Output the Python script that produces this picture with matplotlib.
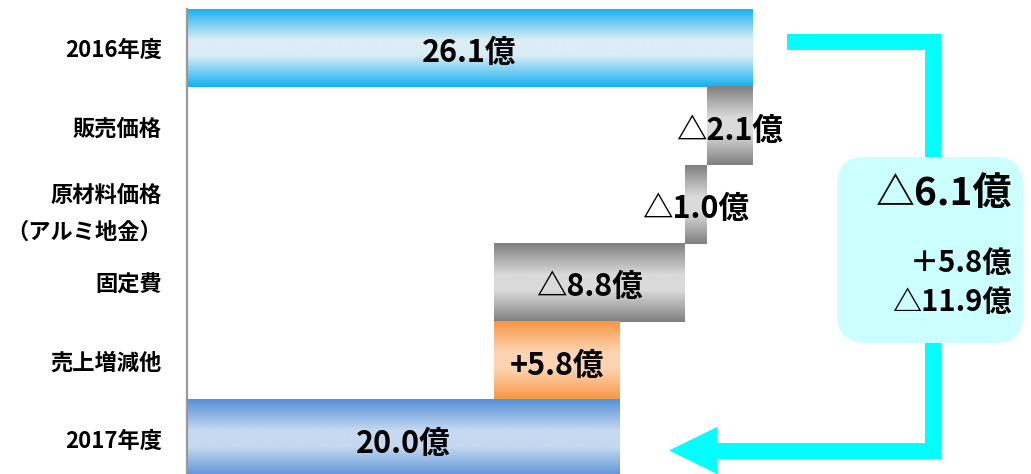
import matplotlib
matplotlib.use("Agg")
import matplotlib.pyplot as plt
import numpy as np
from matplotlib.colors import to_rgb
from matplotlib.patches import FancyBboxPatch, Polygon
from matplotlib.lines import Line2D
from matplotlib.transforms import IdentityTransform

plt.rcParams['font.family'] = ['Noto Sans CJK JP', 'DejaVu Sans']

# ---- data ----
categories = ['2016年度', '販売価格', '原材料価格\n（アルミ地金）', '固定費', '売上増減他', '2017年度']
values = [26.1, -2.1, -1.0, -8.8, 5.8, 20.0]
bar_labels = ['26.1億', '△2.1億', '△1.0億', '△8.8億', '+5.8億', '20.0億']
kinds = ['total', 'delta', 'delta', 'delta', 'delta', 'total']
summary_main = '△6.1億'
summary_sub = ['＋5.8億', '△11.9億']

# gradient colours (edge, centre)
grad_colors = {
    0: ('#12b0f0', '#dbedf6'),
    5: ('#5590d6', '#c6d9f1'),
    'neg': ('#7f7f7f', '#dadada'),
    'pos': ('#f79646', '#fdd4b2'),
}

W, H = 1031, 474
fig = plt.figure(figsize=(W / 100, H / 100), dpi=100)
ax_left_px = 187
ax_top_px = 9
row_px = 78.2
n = len(categories)
ax_bottom_px = ax_top_px + n * row_px
x_scale = 21.65  # px per unit
xmax = (W - ax_left_px) / x_scale
ax = fig.add_axes([ax_left_px / W, (H - ax_bottom_px) / H,
                   (W - ax_left_px) / W, (ax_bottom_px - ax_top_px) / H])


def gradient(edge, centre, n_=200):
    e = np.array(to_rgb(edge))
    c = np.array(to_rgb(centre))
    t = np.linspace(0, 1, n_)
    f = 1 - np.abs(2 * t - 1)
    f = np.clip(f * 1.25, 0, 1)
    arr = e[None, :] * (1 - f[:, None]) + c[None, :] * f[:, None]
    return arr[:, None, :]


running = 0.0
for i, (v, kind) in enumerate(zip(values, kinds)):
    if kind == 'total':
        left, right = 0.0, v
        running = v
        cols = grad_colors[i]
    else:
        new = running + v
        left, right = min(running, new), max(running, new)
        running = new
        cols = grad_colors['neg'] if v < 0 else grad_colors['pos']
    img = gradient(*cols)
    ax.imshow(img, extent=(left, right, i + 0.5, i - 0.5), origin='upper',
              aspect='auto', interpolation='bilinear', zorder=2)
    ax.text((left + right) / 2, i + 0.06, bar_labels[i], ha='center', va='center',
            fontsize=22, fontweight='bold', color='black', zorder=5)

ax.set_xlim(0, xmax)
ax.set_ylim(n - 0.5, -0.5)
ax.set_yticks(range(n))
ax.set_yticklabels(categories, fontsize=16, fontweight='bold', linespacing=1.75)
ax.tick_params(axis='y', length=0, pad=18)
ax.set_xticks([])
for s in ['top', 'right', 'bottom']:
    ax.spines[s].set_visible(False)
ax.spines['left'].set_color('#999999')
ax.spines['left'].set_linewidth(1.6)
ax.spines['left'].set_zorder(6)
ax.patch.set_alpha(0)

# ---- connector arrow (pixel coords, display origin bottom-left) ----
def P(x, y):
    return (x, H - y)

tr = IdentityTransform()
lw_pt = 16 * 72 / 100
pts = [P(787, 41.5), P(933, 41.5), P(933, 450.5), P(716, 450.5)]
xs, ys = zip(*pts)
fig.add_artist(Line2D(xs, ys, color='#00ffff', lw=lw_pt, solid_joinstyle='miter',
                      solid_capstyle='butt', transform=tr, zorder=3))
fig.add_artist(Polygon([P(717, 427), P(669, 450.5), P(717, 474)], closed=True,
                       facecolor='#00ffff', edgecolor='none', transform=tr, zorder=3))

# ---- summary box ----
bx0, by0, bx1, by1 = 837, 157, 1023, 343
fig.add_artist(FancyBboxPatch(P(bx0, by1), bx1 - bx0, by1 - by0,
                              boxstyle='round,pad=0,rounding_size=28',
                              facecolor='#ccffff', edgecolor='none',
                              transform=tr, zorder=4))
fig.text(1012 / W, 1 - 193 / H, summary_main, ha='right', va='center',
         fontsize=28, fontweight='bold', zorder=5)
fig.text(1012 / W, 1 - 263 / H, summary_sub[0], ha='right', va='center',
         fontsize=21, fontweight='bold', zorder=5)
fig.text(1012 / W, 1 - 302 / H, summary_sub[1], ha='right', va='center',
         fontsize=21, fontweight='bold', zorder=5)

fig.savefig('out.png', dpi=100)
